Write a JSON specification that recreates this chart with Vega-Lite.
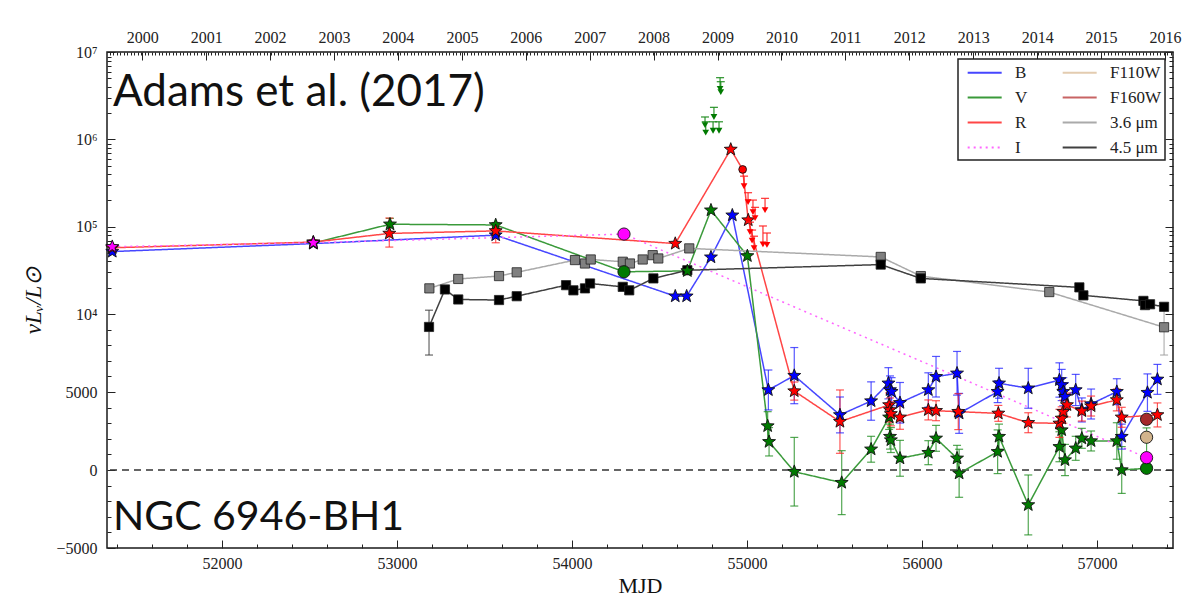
{
"$schema":"https://vega.github.io/schema/vega-lite/v6.json",
"width":1066,"height":496,
"autosize":{"type":"none"},
"padding":{"left":107,"top":52,"right":28,"bottom":62},
"background":"white",
"config":{
 "font":"Liberation Serif",
 "view":{"stroke":"#1a1a1a","strokeWidth":1.5},
 "axis":{"grid":false,"domain":false,"labelFont":"Liberation Serif","labelFontSize":16,"labelColor":"#222","tickColor":"#222","tickWidth":1,"titleFont":"Liberation Serif","titleFontWeight":"normal","titleColor":"#111","labelOverlap":false,"labelFlush":false},
 "legend":{"orient":"none","legendX":851,"legendY":7,"columns":2,"symbolType":"M-0.45,0L3.55,0","symbolSize":289,"symbolStrokeWidth":2,"labelFont":"Liberation Serif","labelFontSize":17,"labelColor":"#222","labelOffset":34,"rowPadding":7,"columnPadding":29,"padding":4,"strokeColor":"#222","strokeWidth":1.5,"fillColor":"white","cornerRadius":0}
},
"datasets":{
"phot":[
{"b":"B","t":51373,"v":52000,"lo":49000,"hi":55500,"inst":"ground"},
{"b":"B","t":52522,"v":64500,"lo":61000,"hi":68000,"inst":"ground"},
{"b":"B","t":53564,"v":80000,"lo":76000,"hi":84000,"inst":"ground"},
{"b":"B","t":54590,"v":16100,"inst":"ground"},
{"b":"B","t":54655,"v":16100,"inst":"ground"},
{"b":"B","t":54794,"v":45000,"inst":"ground"},
{"b":"B","t":54916,"v":136000,"inst":"ground"},
{"b":"B","t":55122,"v":5130,"lo":3850,"hi":6410,"inst":"ground"},
{"b":"B","t":55270,"v":6050,"lo":4250,"hi":7850,"inst":"ground"},
{"b":"B","t":55531,"v":3530,"lo":2380,"hi":4680,"inst":"ground"},
{"b":"B","t":55709,"v":4420,"lo":3190,"hi":5650,"inst":"ground"},
{"b":"B","t":55808,"v":5560,"lo":4560,"hi":6560,"inst":"ground"},
{"b":"B","t":55817,"v":5130,"lo":4230,"hi":6030,"inst":"ground"},
{"b":"B","t":55826,"v":5020,"lo":4120,"hi":5920,"inst":"ground"},
{"b":"B","t":55874,"v":4310,"lo":3010,"hi":5610,"inst":"ground"},
{"b":"B","t":56036,"v":5130,"lo":4030,"hi":6230,"inst":"ground"},
{"b":"B","t":56080,"v":5980,"lo":4680,"hi":7280,"inst":"ground"},
{"b":"B","t":56200,"v":6200,"lo":4800,"hi":7600,"inst":"ground"},
{"b":"B","t":56212,"v":3630,"lo":2350,"hi":4910,"inst":"ground"},
{"b":"B","t":56432,"v":5020,"lo":4320,"hi":5720,"inst":"ground"},
{"b":"B","t":56440,"v":5560,"lo":4600,"hi":6520,"inst":"ground"},
{"b":"B","t":56607,"v":5240,"lo":3960,"hi":6520,"inst":"ground"},
{"b":"B","t":56785,"v":5770,"lo":4670,"hi":6870,"inst":"ground"},
{"b":"B","t":56798,"v":5450,"lo":4450,"hi":6450,"inst":"ground"},
{"b":"B","t":56807,"v":5020,"lo":4120,"hi":5920,"inst":"ground"},
{"b":"B","t":56817,"v":4700,"lo":3800,"hi":5600,"inst":"ground"},
{"b":"B","t":56878,"v":5130,"lo":4130,"hi":6130,"inst":"ground"},
{"b":"B","t":56913,"v":3850,"lo":3080,"hi":4620,"inst":"ground"},
{"b":"B","t":56966,"v":4230,"lo":3270,"hi":5190,"inst":"ground"},
{"b":"B","t":57113,"v":5020,"lo":4190,"hi":5850,"inst":"ground"},
{"b":"B","t":57141,"v":2140,"lo":1340,"hi":2940,"inst":"ground"},
{"b":"B","t":57288,"v":4960,"lo":3760,"hi":6160,"inst":"ground"},
{"b":"B","t":57345,"v":5810,"lo":4850,"hi":6770,"inst":"ground"},
{"b":"V","t":52522,"v":65500,"lo":62000,"hi":69000,"inst":"ground"},
{"b":"V","t":52960,"v":107000,"lo":88000,"hi":125000,"inst":"ground"},
{"b":"V","t":53564,"v":105000,"lo":95000,"hi":112000,"inst":"ground"},
{"b":"V","t":54297,"v":30500,"inst":"HST"},
{"b":"V","t":54659,"v":31300,"inst":"ground"},
{"b":"V","t":54794,"v":155000,"inst":"ground"},
{"b":"V","t":55002,"v":46500,"inst":"ground"},
{"b":"V","t":55118,"v":2820,"lo":1900,"hi":3740,"inst":"ground"},
{"b":"V","t":55126,"v":1810,"lo":900,"hi":2720,"inst":"ground"},
{"b":"V","t":55270,"v":-110,"lo":-2310,"hi":2090,"inst":"ground"},
{"b":"V","t":55541,"v":-810,"lo":-2860,"hi":1240,"inst":"ground"},
{"b":"V","t":55709,"v":1330,"lo":500,"hi":2160,"inst":"ground"},
{"b":"V","t":55812,"v":3380,"lo":2600,"hi":4160,"inst":"ground"},
{"b":"V","t":55817,"v":2140,"lo":1340,"hi":2940,"inst":"ground"},
{"b":"V","t":55822,"v":1920,"lo":1120,"hi":2720,"inst":"ground"},
{"b":"V","t":55874,"v":750,"lo":-400,"hi":1900,"inst":"ground"},
{"b":"V","t":56036,"v":1110,"lo":340,"hi":1880,"inst":"ground"},
{"b":"V","t":56080,"v":2030,"lo":1200,"hi":2860,"inst":"ground"},
{"b":"V","t":56200,"v":750,"lo":-80,"hi":1580,"inst":"ground"},
{"b":"V","t":56212,"v":-210,"lo":-1750,"hi":1330,"inst":"ground"},
{"b":"V","t":56432,"v":1170,"lo":-230,"hi":2570,"inst":"ground"},
{"b":"V","t":56440,"v":2140,"lo":1340,"hi":2940,"inst":"ground"},
{"b":"V","t":56607,"v":-2240,"lo":-4160,"hi":-320,"inst":"ground"},
{"b":"V","t":56785,"v":1490,"lo":530,"hi":2450,"inst":"ground"},
{"b":"V","t":56798,"v":2560,"lo":1660,"hi":3460,"inst":"ground"},
{"b":"V","t":56817,"v":640,"lo":-360,"hi":1640,"inst":"ground"},
{"b":"V","t":56878,"v":1390,"lo":620,"hi":2160,"inst":"ground"},
{"b":"V","t":56913,"v":2030,"lo":1390,"hi":2670,"inst":"ground"},
{"b":"V","t":56966,"v":1860,"lo":1220,"hi":2500,"inst":"ground"},
{"b":"V","t":57113,"v":1860,"lo":690,"hi":3030,"inst":"ground"},
{"b":"V","t":57141,"v":0,"lo":-1500,"hi":1500,"inst":"ground"},
{"b":"V","t":57283,"v":110,"lo":110,"hi":2700,"inst":"HST"},
{"b":"R","t":51373,"v":57500,"lo":53000,"hi":62000,"inst":"ground"},
{"b":"R","t":52522,"v":67300,"lo":64000,"hi":71000,"inst":"ground"},
{"b":"R","t":52956,"v":84000,"lo":58500,"hi":126000,"inst":"ground"},
{"b":"R","t":53564,"v":90000,"lo":66000,"hi":100000,"inst":"ground"},
{"b":"R","t":54590,"v":64500,"inst":"ground"},
{"b":"R","t":54907,"v":770000,"inst":"ground"},
{"b":"R","t":54975,"v":455000,"inst":"other"},
{"b":"R","t":55007,"v":119000,"inst":"ground"},
{"b":"R","t":55270,"v":5060,"lo":4480,"hi":5640,"inst":"ground"},
{"b":"R","t":55531,"v":3100,"lo":1070,"hi":5130,"inst":"ground"},
{"b":"R","t":55812,"v":4170,"lo":3400,"hi":4940,"inst":"ground"},
{"b":"R","t":55817,"v":3850,"lo":3080,"hi":4620,"inst":"ground"},
{"b":"R","t":55822,"v":3600,"lo":2830,"hi":4370,"inst":"ground"},
{"b":"R","t":55874,"v":3380,"lo":2610,"hi":4150,"inst":"ground"},
{"b":"R","t":56036,"v":3850,"lo":3210,"hi":4490,"inst":"ground"},
{"b":"R","t":56080,"v":3800,"lo":3160,"hi":4440,"inst":"ground"},
{"b":"R","t":56207,"v":3740,"lo":2590,"hi":4890,"inst":"ground"},
{"b":"R","t":56436,"v":3630,"lo":3120,"hi":4140,"inst":"ground"},
{"b":"R","t":56607,"v":3030,"lo":2390,"hi":3670,"inst":"ground"},
{"b":"R","t":56785,"v":2990,"lo":2090,"hi":3890,"inst":"ground"},
{"b":"R","t":56798,"v":3310,"lo":2570,"hi":4050,"inst":"ground"},
{"b":"R","t":56807,"v":3740,"lo":3000,"hi":4480,"inst":"ground"},
{"b":"R","t":56828,"v":4170,"lo":3400,"hi":4940,"inst":"ground"},
{"b":"R","t":56913,"v":3780,"lo":3140,"hi":4420,"inst":"ground"},
{"b":"R","t":56966,"v":4100,"lo":3460,"hi":4740,"inst":"ground"},
{"b":"R","t":57113,"v":4490,"lo":3790,"hi":5190,"inst":"ground"},
{"b":"R","t":57141,"v":3380,"lo":2740,"hi":4020,"inst":"ground"},
{"b":"R","t":57345,"v":3530,"lo":2760,"hi":4300,"inst":"ground"},
{"b":"I","t":51373,"v":59000,"inst":"ground"},
{"b":"I","t":52522,"v":66000,"inst":"ground"},
{"b":"I","t":54297,"v":82500,"inst":"HST"},
{"b":"I","t":57283,"v":790,"inst":"HST"},
{"b":"F110W","t":57283,"v":2100,"inst":"HST"},
{"b":"F160W","t":57283,"v":3250,"inst":"HST"},
{"b":"3.6 μm","t":53185,"v":19700,"inst":"Spitzer"},
{"b":"3.6 μm","t":53350,"v":25200,"inst":"Spitzer"},
{"b":"3.6 μm","t":53583,"v":27300,"inst":"Spitzer"},
{"b":"3.6 μm","t":53684,"v":30000,"inst":"Spitzer"},
{"b":"3.6 μm","t":54017,"v":41600,"inst":"Spitzer"},
{"b":"3.6 μm","t":54074,"v":38100,"inst":"Spitzer"},
{"b":"3.6 μm","t":54107,"v":42300,"inst":"Spitzer"},
{"b":"3.6 μm","t":54290,"v":39700,"inst":"Spitzer"},
{"b":"3.6 μm","t":54331,"v":38100,"inst":"Spitzer"},
{"b":"3.6 μm","t":54404,"v":42300,"inst":"Spitzer"},
{"b":"3.6 μm","t":54461,"v":47400,"inst":"Spitzer"},
{"b":"3.6 μm","t":54493,"v":43500,"inst":"Spitzer"},
{"b":"3.6 μm","t":54670,"v":56600,"inst":"Spitzer"},
{"b":"3.6 μm","t":55764,"v":45300,"inst":"Spitzer"},
{"b":"3.6 μm","t":55993,"v":27300,"inst":"Spitzer"},
{"b":"3.6 μm","t":56727,"v":18000,"inst":"Spitzer"},
{"b":"3.6 μm","t":57383,"v":9150,"lo":7370,"hi":11700,"inst":"Spitzer"},
{"b":"4.5 μm","t":53183,"v":9170,"lo":7370,"hi":11100,"inst":"Spitzer"},
{"b":"4.5 μm","t":53274,"v":19200,"inst":"Spitzer"},
{"b":"4.5 μm","t":53350,"v":14700,"inst":"Spitzer"},
{"b":"4.5 μm","t":53583,"v":14500,"inst":"Spitzer"},
{"b":"4.5 μm","t":53684,"v":16100,"inst":"Spitzer"},
{"b":"4.5 μm","t":53966,"v":21500,"inst":"Spitzer"},
{"b":"4.5 μm","t":54008,"v":18800,"inst":"Spitzer"},
{"b":"4.5 μm","t":54074,"v":19700,"inst":"Spitzer"},
{"b":"4.5 μm","t":54103,"v":22500,"inst":"Spitzer"},
{"b":"4.5 μm","t":54290,"v":20500,"inst":"Spitzer"},
{"b":"4.5 μm","t":54327,"v":18800,"inst":"Spitzer"},
{"b":"4.5 μm","t":54465,"v":25600,"inst":"Spitzer"},
{"b":"4.5 μm","t":54659,"v":31900,"inst":"Spitzer"},
{"b":"4.5 μm","t":55764,"v":37100,"inst":"Spitzer"},
{"b":"4.5 μm","t":55993,"v":25600,"inst":"Spitzer"},
{"b":"4.5 μm","t":56899,"v":20200,"inst":"Spitzer"},
{"b":"4.5 μm","t":56922,"v":16500,"inst":"Spitzer"},
{"b":"4.5 μm","t":57265,"v":14200,"inst":"Spitzer"},
{"b":"4.5 μm","t":57274,"v":12700,"inst":"Spitzer"},
{"b":"4.5 μm","t":57303,"v":13000,"inst":"Spitzer"},
{"b":"4.5 μm","t":57383,"v":12100,"inst":"Spitzer"}
],
"lims":[
{"b":"R","t":54983,"v":381000,"tip":292000},
{"b":"R","t":55006,"v":250000,"tip":192000},
{"b":"R","t":55034,"v":202000,"tip":147000},
{"b":"R","t":55046,"v":168000,"tip":126000},
{"b":"R","t":55103,"v":213000,"tip":155000},
{"b":"R","t":55017,"v":113000,"tip":87000},
{"b":"R","t":55029,"v":92000,"tip":70000},
{"b":"R","t":55091,"v":102000,"tip":63000},
{"b":"R","t":55114,"v":85000,"tip":62000},
{"b":"R","t":55040,"v":78000,"tip":57000},
{"b":"V","t":54846,"v":5100000,"tip":3800000},
{"b":"V","t":54850,"v":4600000,"tip":3500000},
{"b":"V","t":54811,"v":2370000,"tip":1820000},
{"b":"V","t":54760,"v":1820000,"tip":1460000},
{"b":"V","t":54764,"v":1600000,"tip":1220000},
{"b":"V","t":54806,"v":1600000,"tip":1280000},
{"b":"V","t":54840,"v":1600000,"tip":1280000}
]
},
"resolve":{"axis":{"x":"independent","y":"independent"}},
"layer":[
{"data":{"values":[{}]},
 "mark":{"type":"rule","strokeDash":[7,5],"color":"#333","strokeWidth":1.5},
 "encoding":{"y":{"datum":0,"type":"quantitative","axis":null,"scale":{"domain":[-5000,0,5000,10000,12000,15000,20000,25000,30000,40000,50000,60000,80000,100000,120000,150000,200000,300000,400000,500000,600000,800000,1000000,1500000,2000000,3000000,4000000,5000000,7000000,10000000],"range":[496,418,340,262,255.09,246.62,235.71,227.25,220.33,209.42,200.96,194.04,183.13,174.67,167.75,159.29,148.38,133.0,122.09,113.63,106.71,95.8,87.34,71.96,61.05,45.67,34.76,26.3,13.54,0],"nice":false,"zero":false}}}},
{"data":{"name":"phot"},
 "transform":[{"filter":"datum.b != 'F110W' && datum.b != 'F160W'"}],
 "mark":{"type":"line","strokeWidth":1.5},
 "encoding":{
  "x":{"field":"t","type":"quantitative","axis":null,"scale":{"domain":[51343,57434],"nice":false,"zero":false}},
  "y":{"field":"v","type":"quantitative","axis":null},
  "color":{"field":"b","type":"nominal","scale":{"domain":["B","V","R","I","F110W","F160W","3.6 μm","4.5 μm"],"range":["#4646ff","#3a9a3a","#ff4646","#ff66ff","#e3ccb0","#c86464","#aaaaaa","#404040"]},"legend":{"title":null}},
  "strokeDash":{"field":"b","type":"nominal","scale":{"domain":["B","V","R","I","F110W","F160W","3.6 μm","4.5 μm"],"range":[[1,0],[1,0],[1,0],[2,4],[1,0],[1,0],[1,0],[1,0]]},"legend":{"title":null}}
 }},
{"data":{"name":"phot"},
 "transform":[{"filter":"isValid(datum.lo)"}],
 "mark":{"type":"rule","strokeWidth":1.2,"opacity":0.75},
 "encoding":{
  "x":{"field":"t","type":"quantitative","axis":null},
  "y":{"field":"lo","type":"quantitative","axis":null},
  "y2":{"field":"hi"},
  "stroke":{"field":"b","type":"nominal","legend":null,"scale":{"domain":["B","V","R","I","F110W","F160W","3.6 μm","4.5 μm"],"range":["#2020ff","#1a8a1a","#ff2020","#ff40ff","#c8aa80","#a52a2a","#999999","#333333"]}}
 }},
{"data":{"name":"phot"},
 "transform":[{"filter":"isValid(datum.lo)"},{"fold":["lo","hi"],"as":["end","ev"]}],
 "mark":{"type":"point","shape":"M-1,0L1,0","filled":false,"size":64,"strokeWidth":1.2,"opacity":0.75},
 "encoding":{
  "x":{"field":"t","type":"quantitative","axis":null},
  "y":{"field":"ev","type":"quantitative","axis":null},
  "stroke":{"field":"b","type":"nominal","legend":null}
 }},
{"data":{"name":"phot"},
 "transform":[{"filter":"datum.inst == 'Spitzer'"}],
 "mark":{"type":"point","shape":"square","filled":true,"size":85,"stroke":"#222","strokeWidth":0.8,"opacity":1},
 "encoding":{
  "x":{"field":"t","type":"quantitative","axis":null},
  "y":{"field":"v","type":"quantitative","axis":null},
  "fill":{"field":"b","type":"nominal","legend":null,"scale":{"domain":["B","V","R","I","F110W","F160W","3.6 μm","4.5 μm"],"range":["#0000ff","#007a00","#ff0000","#ff00ff","#d2b48c","#a52a2a","#808080","#000000"]}}
 }},
{"data":{"name":"phot"},
 "transform":[{"filter":"datum.inst == 'ground'"}],
 "mark":{"type":"point","shape":"M0,-1L0.247,-0.34L0.951,-0.309L0.399,0.13L0.588,0.809L0,0.42L-0.588,0.809L-0.399,0.13L-0.951,-0.309L-0.247,-0.34Z","filled":true,"size":185,"stroke":"#111","strokeWidth":0.9,"opacity":1},
 "encoding":{
  "x":{"field":"t","type":"quantitative","axis":null},
  "y":{"field":"v","type":"quantitative","axis":null},
  "fill":{"field":"b","type":"nominal","legend":null}
 }},
{"data":{"name":"phot"},
 "transform":[{"filter":"datum.inst == 'other'"}],
 "mark":{"type":"point","shape":"circle","filled":true,"size":60,"stroke":"#111","strokeWidth":0.9,"opacity":1},
 "encoding":{
  "x":{"field":"t","type":"quantitative","axis":null},
  "y":{"field":"v","type":"quantitative","axis":null},
  "fill":{"field":"b","type":"nominal","legend":null}
 }},
{"data":{"name":"phot"},
 "transform":[{"filter":"datum.inst == 'HST'"}],
 "mark":{"type":"point","shape":"circle","filled":true,"size":150,"stroke":"#111","strokeWidth":0.9,"opacity":1},
 "encoding":{
  "x":{"field":"t","type":"quantitative","axis":null},
  "y":{"field":"v","type":"quantitative","axis":null},
  "fill":{"field":"b","type":"nominal","legend":null}
 }},
{"data":{"name":"lims"},
 "mark":{"type":"rule","strokeWidth":1.3,"opacity":0.85},
 "encoding":{
  "x":{"field":"t","type":"quantitative","axis":null},
  "y":{"field":"v","type":"quantitative","axis":null},
  "y2":{"field":"tip"},
  "stroke":{"field":"b","type":"nominal","legend":null}
 }},
{"data":{"name":"lims"},
 "mark":{"type":"point","shape":"M-1,0L1,0","filled":false,"size":64,"strokeWidth":1.3,"opacity":0.85},
 "encoding":{
  "x":{"field":"t","type":"quantitative","axis":null},
  "y":{"field":"v","type":"quantitative","axis":null},
  "stroke":{"field":"b","type":"nominal","legend":null}
 }},
{"data":{"name":"lims"},
 "mark":{"type":"point","shape":"triangle-down","filled":true,"size":45,"opacity":1},
 "encoding":{
  "x":{"field":"t","type":"quantitative","axis":null},
  "y":{"field":"tip","type":"quantitative","axis":null},
  "fill":{"field":"b","type":"nominal","legend":null}
 }},
{"data":{"values":[{}]},
 "mark":{"type":"text","text":"Adams et al. (2017)","font":"Lato","fontSize":44,"align":"left","baseline":"middle","color":"#111"},
 "encoding":{"x":{"datum":51377,"type":"quantitative","axis":null},"y":{"datum":3400000,"type":"quantitative","axis":null}}},
{"data":{"values":[{}]},
 "mark":{"type":"text","text":"NGC 6946-BH1","font":"Lato","fontSize":41,"align":"left","baseline":"middle","color":"#111"},
 "encoding":{"x":{"datum":51377,"type":"quantitative","axis":null},"y":{"datum":-3080,"type":"quantitative","axis":null}}},
{"mark":{"type":"point","opacity":0},
 "encoding":{"x":{"datum":52000,"type":"quantitative","axis":{"orient":"bottom","values":[52000,53000,54000,55000,56000,57000],"format":"d","tickSize":-8,"labelPadding":15,"title":"MJD","titleFontSize":22,"titlePadding":4}}}},
{"mark":{"type":"point","opacity":0},
 "encoding":{"x":{"datum":52000,"type":"quantitative","axis":{"orient":"bottom","values":[51400,51600,51800,52200,52400,52600,52800,53200,53400,53600,53800,54200,54400,54600,54800,55200,55400,55600,55800,56200,56400,56600,56800,57200,57400],"labels":false,"tickSize":-4,"title":null}}}},
{"mark":{"type":"point","opacity":0},
 "encoding":{"x":{"datum":52000,"type":"quantitative","axis":{"orient":"top","values":[51544,51910,52275,52640,53005,53371,53736,54101,54466,54832,55197,55562,55927,56293,56658,57023,57388],"labelExpr":"format(round((datum.value-51544)/365.25)+2000,'d')","tickSize":-8,"labelPadding":15,"title":null}}}},
{"mark":{"type":"point","opacity":0},
 "encoding":{"x":{"datum":52000,"type":"quantitative","axis":{"orient":"top","tickCount":200,"labels":false,"tickSize":-3,"title":null}}}},
{"mark":{"type":"point","opacity":0},
 "encoding":{"y":{"datum":0,"type":"quantitative","axis":{"orient":"left","values":[-5000,0,5000,10000,100000,1000000,10000000],"labelExpr":"datum.value >= 1e7 ? '10⁷' : datum.value >= 1e6 ? '10⁶' : datum.value >= 1e5 ? '10⁵' : datum.value >= 1e4 ? '10⁴' : datum.value < 0 ? '−' + format(-datum.value,'d') : format(datum.value,'d')","tickSize":-8,"labelPadding":18,"title":"νLᵥ/L⊙","titleFontSize":23,"titleFontStyle":"italic","titlePadding":10}}}},
{"mark":{"type":"point","opacity":0},
 "encoding":{"y":{"datum":0,"type":"quantitative","axis":{"orient":"left","values":[-4000,-3000,-2000,-1000,1000,2000,3000,4000,6000,7000,8000,9000,20000,30000,40000,50000,60000,70000,80000,90000,200000,300000,400000,500000,600000,700000,800000,900000,2000000,3000000,4000000,5000000,6000000,7000000,8000000,9000000],"labels":false,"tickSize":-4,"title":null}}}},
{"mark":{"type":"point","opacity":0},
 "encoding":{"y":{"datum":0,"type":"quantitative","axis":{"orient":"right","values":[-5000,0,5000,10000,100000,1000000,10000000],"labels":false,"tickSize":-8,"title":null}}}},
{"mark":{"type":"point","opacity":0},
 "encoding":{"y":{"datum":0,"type":"quantitative","axis":{"orient":"right","values":[-4000,-3000,-2000,-1000,1000,2000,3000,4000,6000,7000,8000,9000,20000,30000,40000,50000,60000,70000,80000,90000,200000,300000,400000,500000,600000,700000,800000,900000,2000000,3000000,4000000,5000000,6000000,7000000,8000000,9000000],"labels":false,"tickSize":-4,"title":null}}}}
]
}
